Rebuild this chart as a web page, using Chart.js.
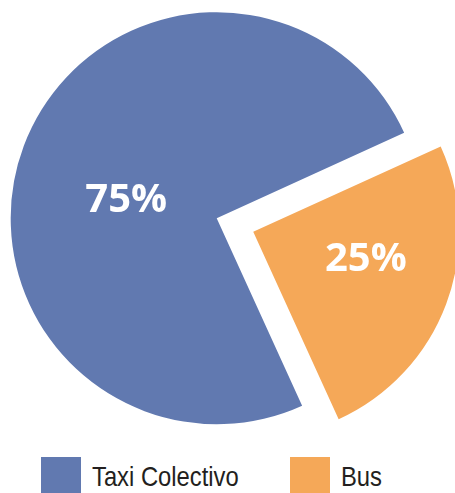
<!DOCTYPE html>
<html>
<head>
<meta charset="utf-8">
<script src="https://cdn.jsdelivr.net/npm/chart.js@4/dist/chart.umd.min.js"></script>
<style>
  html, body { margin: 0; padding: 0; background: #fff; }
  #wrap { position: relative; width: 455px; height: 493px; overflow: hidden; }
  #grafico { position: absolute; left: 0; top: 0; }
  #legenda { position: absolute; left: 41px; top: 457px; display: flex; }
  .item { display: flex; align-items: center; width: 249px; height: 40px; }
  .caixa { width: 40px; height: 40px; flex: none; }
  .texto { margin-left: 11px; font-family: "Liberation Sans", sans-serif;
           font-size: 27.5px; line-height: 1; color: #231f20; white-space: nowrap;
           transform: scaleX(0.865); transform-origin: left center; }
</style>
</head>
<body>
<div id="wrap">
  <canvas id="grafico" width="455" height="445"></canvas>
  <div id="legenda"></div>
</div>
<script>
'use strict';
// DADOS DO GRAFICO
const categorias = ['Taxi Colectivo', 'Bus'];
const valores = [75, 25];
const cores = ['#6179b0', '#f5a858'];
// chart.js divide o offset por 4 na hora de desenhar
const afastamento = [0, 156];

// rotulos de porcentagem dentro das fatias
const rotulosPorcentagem = {
    id: 'rotulosPorcentagem',
    afterDatasetsDraw(chart, args, opts) {
        const ctx = chart.ctx;
        const meta = chart.getDatasetMeta(0);
        const total = valores.reduce((a, b) => a + b, 0);
        ctx.save();
        ctx.font = 'bold 40px "Open Sans", sans-serif';
        ctx.fillStyle = '#ffffff';
        ctx.textAlign = 'center';
        ctx.textBaseline = 'alphabetic';
        meta.data.forEach((arco, i) => {
            const p = arco.getProps(['x', 'y', 'startAngle', 'endAngle', 'outerRadius'], true);
            const meio = (p.startAngle + p.endAngle) / 2;
            const off = (arco.options.offset || 0) / 4;
            const ang = meio - opts.giro * Math.PI / 180;
            const r = p.outerRadius * opts.fracao[i];
            const x = p.x + off * Math.cos(meio) + r * Math.cos(ang);
            const y = p.y + off * Math.sin(meio) + r * Math.sin(ang);
            ctx.fillText(Math.round(valores[i] / total * 100) + '%', x, y + 14.3);
        });
        ctx.restore();
    }
};

const ctx = document.getElementById('grafico').getContext('2d');
const grafico = new Chart(ctx, {
    type: 'pie',
    plugins: [rotulosPorcentagem],
    data: {
        labels: categorias,
        datasets: [{
            data: valores,
            backgroundColor: cores,
            borderWidth: 0,
            offset: afastamento,
            hoverOffset: 0
        }]
    },
    options: {
        responsive: false,
        animation: false,
        rotation: 155.5,
        radius: 206,
        layout: {
            padding: { left: 0, right: 21.6, top: 0, bottom: 8.6 }
        },
        plugins: {
            legend: { display: false },
            tooltip: { enabled: false },
            rotulosPorcentagem: { giro: 8, fracao: [0.45, 0.56] }
        }
    }
});

// legenda em html
const legenda = document.getElementById('legenda');
categorias.forEach((nome, i) => {
    const item = document.createElement('div');
    item.className = 'item';
    const caixa = document.createElement('div');
    caixa.className = 'caixa';
    caixa.style.background = cores[i];
    const texto = document.createElement('span');
    texto.className = 'texto';
    texto.innerText = nome;
    item.appendChild(caixa);
    item.appendChild(texto);
    legenda.appendChild(item);
});
</script>
</body>
</html>
